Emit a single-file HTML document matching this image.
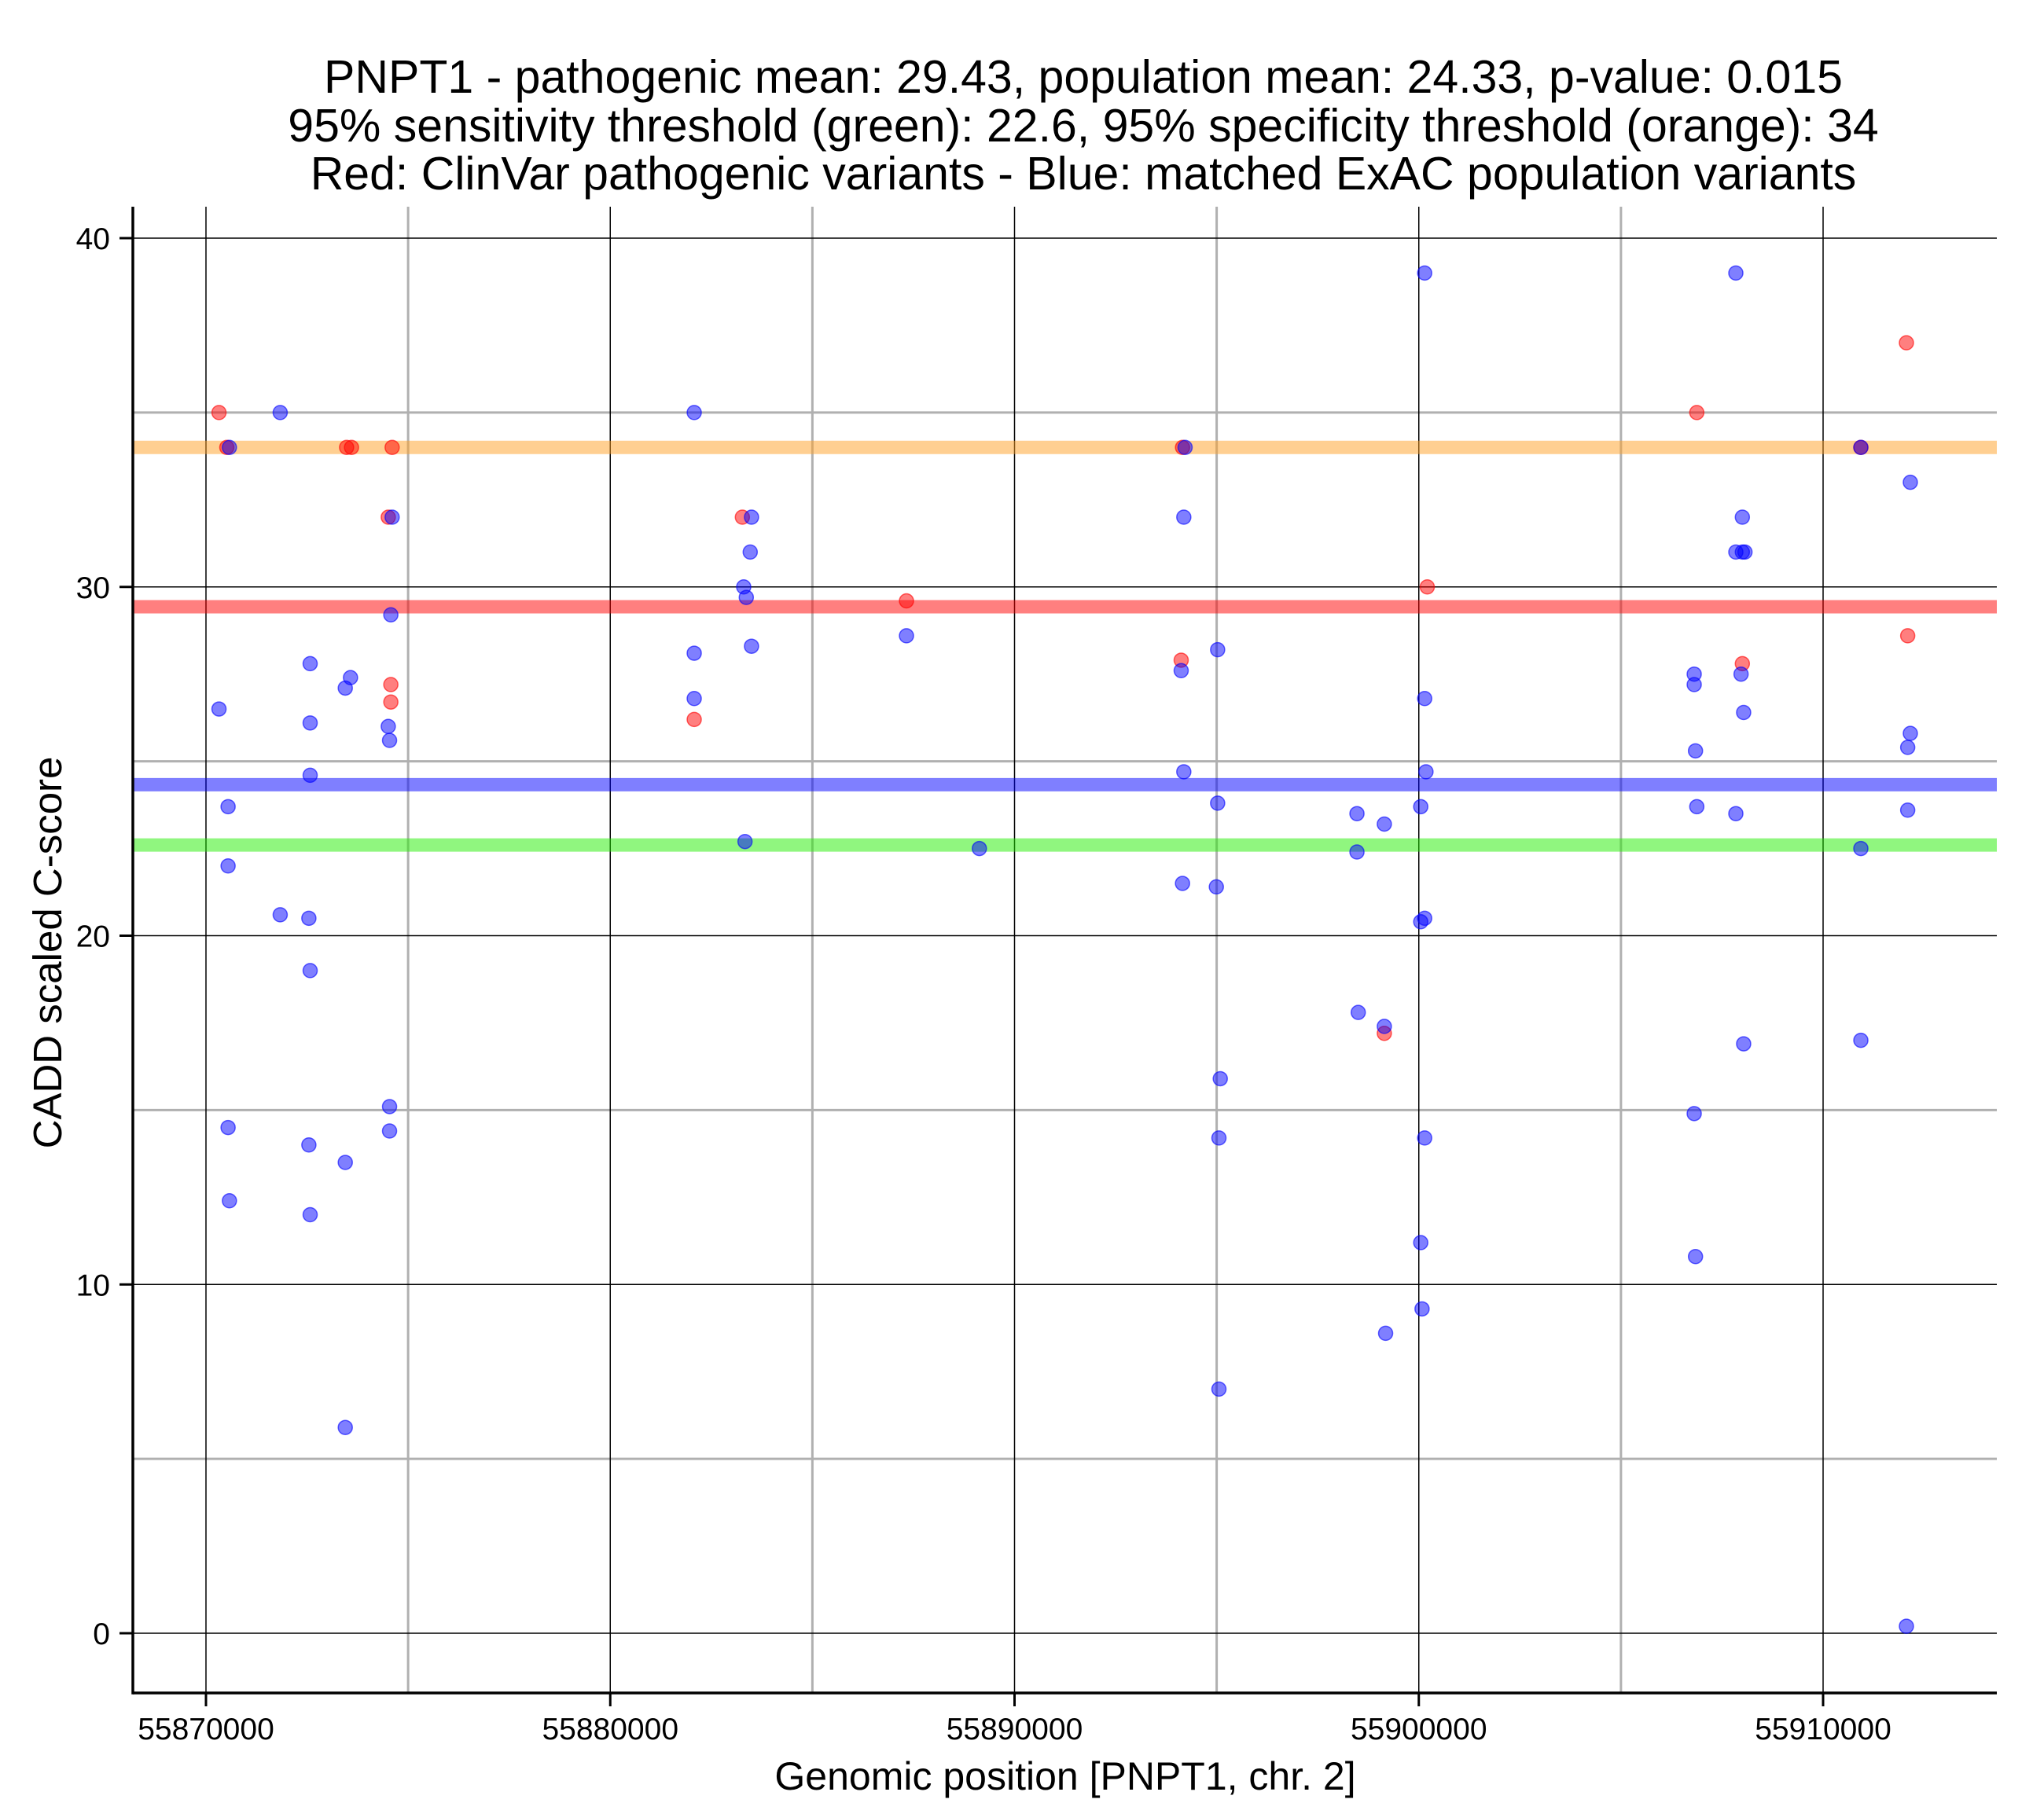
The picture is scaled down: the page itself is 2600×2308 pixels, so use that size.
<!DOCTYPE html>
<html><head><meta charset="utf-8"><style>
html,body{margin:0;padding:0;background:#fff;}
svg{display:block;font-family:"Liberation Sans",Arial,sans-serif;}
</style></head><body>
<svg id="chart" width="2600" height="2308" viewBox="0 0 2600 2308" xmlns="http://www.w3.org/2000/svg">
<g font-size="59" text-anchor="middle" fill="#000">
<text x="1378" y="118">PNPT1 - pathogenic mean: 29.43, population mean: 24.33, p-value: 0.015</text>
<text x="1378" y="180">95% sensitivity threshold (green): 22.6, 95% specificity threshold (orange): 34</text>
<text x="1378" y="241">Red: ClinVar pathogenic variants - Blue: matched ExAC population variants</text>
</g>
<g id="grid"></g>
<g id="hlines"></g>
<g id="points"></g>
<g id="axes"></g>
<text x="1355" y="2277" font-size="50" text-anchor="middle">Genomic position [PNPT1, chr. 2]</text>
<text transform="translate(78,1212) rotate(-90)" font-size="51" text-anchor="middle">CADD scaled C-score</text>
</svg>
<script>
const xTicks=[55870000,55880000,55890000,55900000,55910000];
const xMinor=[55875000,55885000,55895000,55905000];
const yTicks=[0,10,20,30,40];
const yMinor=[5,15,25,35];
const thresholdValues=[34,29.43,24.33,22.6];
const thresholdColors=['#ffa024','#ff0000','#0000ff','#22ee00'];
const redX=[55870322,55870515,55873478,55873600,55874605,55874509,55874573,55874573,55882077,55883268,55887327,55894155,55894122,55899147,55900209,55906876,55908003,55910934,55912061,55912093];
const redY=[35,34,34,34,34,32,27.2,26.7,26.2,32,29.6,34,27.9,17.2,30,35,27.8,34,37,28.6];
const blueX=[55871836,55870580,55870322,55870547,55870547,55870547,55870580,55871836,55872577,55872577,55872577,55872545,55872577,55872545,55872577,55873446,55873575,55873446,55873446,55874605,55874573,55874509,55874541,55874541,55874541,55882077,55882077,55882077,55883301,55883365,55883494,55883462,55883494,55883333,55887327,55889130,55894219,55894187,55894122,55894187,55894155,55895024,55895024,55894992,55895089,55895056,55895056,55898470,55898470,55898502,55899147,55899147,55899179,55900145,55900145,55900177,55900048,55900048,55900145,55900048,55900145,55900080,55906812,55906812,55906844,55906876,55906812,55906844,55907842,55908003,55907842,55908003,55908068,55907971,55908035,55907842,55908035,55910934,55910934,55910934,55912158,55912158,55912093,55912093,55912061];
const blueY=[35,34,26.5,23.7,22.0,14.5,12.4,20.6,27.8,26.1,24.6,20.5,19.0,14.0,12.0,27.1,27.4,13.5,5.9,32,29.2,26.0,25.6,15.1,14.4,35,28.1,26.8,30.0,29.7,32,31.0,28.3,22.7,28.6,22.5,34,32,27.6,24.7,21.5,28.2,23.8,21.4,15.9,14.2,7.0,23.5,22.4,17.8,23.2,17.4,8.6,39,26.8,24.7,23.7,20.4,20.5,11.2,14.2,9.3,27.5,27.2,25.3,23.7,14.9,10.8,39,32,31,31,31,27.5,26.4,23.5,16.9,34,22.5,17.0,33,25.8,25.4,23.6,0.2];

const L=169,R=2540,T=263,B=2154;
const sx=v=>262+(v-55870000)/10000*514.25;
const sy=v=>2078-v*44.375;
const NS='http://www.w3.org/2000/svg';
function mk(parent,tag,attrs){const e=document.createElementNS(NS,tag);for(const k in attrs)e.setAttribute(k,attrs[k]);parent.appendChild(e);return e;}
const grid=document.getElementById('grid');
xMinor.forEach(v=>{const e=mk(grid,'line',{x1:sx(v),x2:sx(v),y1:T,y2:B,stroke:'#b0b0b0','stroke-width':3});

});
yMinor.forEach(v=>{const e=mk(grid,'line',{x1:L,x2:R,y1:sy(v),y2:sy(v),stroke:'#b0b0b0','stroke-width':3});

});
xTicks.forEach(v=>{const e=mk(grid,'line',{x1:sx(v),x2:sx(v),y1:T,y2:B,stroke:'#000','stroke-width':1.5});

});
yTicks.forEach(v=>{const e=mk(grid,'line',{x1:L,x2:R,y1:sy(v),y2:sy(v),stroke:'#000','stroke-width':1.5});

});
const hl=document.getElementById('hlines');
thresholdValues.forEach((v,i)=>{const e=mk(hl,'line',{x1:L,x2:R,y1:sy(v),y2:sy(v),stroke:thresholdColors[i],'stroke-width':17,'stroke-opacity':0.5});

});
const pts=document.getElementById('points');
redX.forEach((x,i)=>{const e=mk(pts,'circle',{cx:sx(x),cy:sy(redY[i]),r:9,fill:'#ff0000','fill-opacity':0.5,stroke:'#ff0000','stroke-opacity':0.6,'stroke-width':1.5});

});
blueX.forEach((x,i)=>{const e=mk(pts,'circle',{cx:sx(x),cy:sy(blueY[i]),r:9,fill:'#0000ff','fill-opacity':0.5,stroke:'#0000ff','stroke-opacity':0.6,'stroke-width':1.5});

});
const ax=document.getElementById('axes');
let e=mk(ax,'line',{x1:L,x2:L,y1:T,y2:B+1.7,stroke:'#000','stroke-width':3.5});


e=mk(ax,'line',{x1:L,x2:R,y1:B,y2:B,stroke:'#000','stroke-width':3.5});


xTicks.forEach(v=>{mk(ax,'line',{x1:sx(v),x2:sx(v),y1:B,y2:B+17,stroke:'#000','stroke-width':3});
const t=mk(ax,'text',{x:sx(v),y:2213,'font-size':39,'text-anchor':'middle'});t.textContent=v;

});
yTicks.forEach(v=>{mk(ax,'line',{x1:L-17,x2:L,y1:sy(v),y2:sy(v),stroke:'#000','stroke-width':3});
const t=mk(ax,'text',{x:140,y:sy(v)+14,'font-size':39,'text-anchor':'end'});t.textContent=v;

});
</script>
</body></html>
